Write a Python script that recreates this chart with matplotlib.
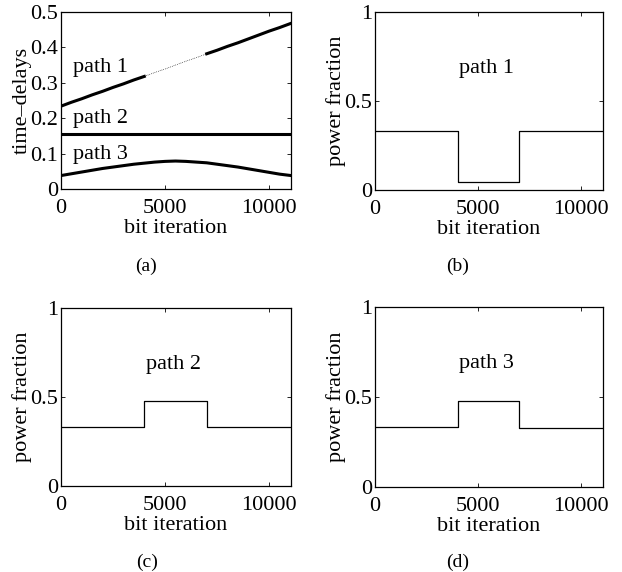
import numpy as np
import matplotlib
matplotlib.use('Agg')
from matplotlib import pyplot as plt

plt.rcParams['font.family'] = ['Liberation Serif', 'DejaVu Serif']

# time-delay curves (panel a)
iters = [0, 500, 1000, 1500, 2000, 2500, 3000, 3500, 4000, 4500, 5000, 5500,
         6000, 6500, 7000, 7500, 8000, 8500, 9000, 9500, 10000, 10500, 11050]
delay1 = [0.234, 0.245, 0.255, 0.266, 0.276, 0.287, 0.297, 0.308, 0.318, 0.329,
          0.339, 0.350, 0.361, 0.371, 0.382, 0.392, 0.403, 0.413, 0.424, 0.435,
          0.446, 0.456, 0.468]
delay2 = [0.156] * 23
delay3 = [0.038, 0.043, 0.048, 0.053, 0.058, 0.062, 0.066, 0.070, 0.073, 0.076,
          0.078, 0.079, 0.078, 0.076, 0.074, 0.070, 0.066, 0.062, 0.057, 0.052,
          0.047, 0.042, 0.038]

# power fractions (panels b-d), step changes
steps = [0, 4000, 7000, 11050]
power1 = [0.333, 0.045, 0.333, 0.333]
power2 = [0.333, 0.48, 0.333, 0.333]
power3 = [0.333, 0.48, 0.33, 0.33]

W, H = 622, 572
FS = 16
fig = plt.figure(figsize=(W / 100, H / 100), dpi=100)

def px_axes(l, t, r, b):
    return fig.add_axes([l / W, 1 - b / H, (r - l) / W, (b - t) / H])

def style(ax):
    ax.tick_params(direction='in', top=True, right=True, length=3, width=0.6,
                   labelsize=FS, pad=2)
    ax.tick_params(axis='x', pad=7)
    for s in ax.spines.values():
        s.set_linewidth(0.9)
    ax.set_xlim(0, 11050)
    ax.set_xticks([0, 5000, 10000])
    ax.set_xlabel('bit iteration', fontsize=FS, labelpad=1)

# (a)
ax = px_axes(61, 12, 291, 189)
style(ax)
x = np.array(iters)
d1 = np.array(delay1)
early = x <= 4000
ax.plot(x[early], d1[early], color='k', lw=2.2)
mid = (x >= 4000) & (x <= 7000)
ax.plot(x[mid], d1[mid], color='k', lw=0.5, ls=':')
late = x >= 7000
ax.plot(x[late], d1[late], color='k', lw=2.2)
ax.plot(iters, delay2, color='k', lw=2.2)
ax.plot(iters, delay3, color='k', lw=2.2)
ax.set_ylim(0, 0.5)
ax.set_yticks([0, 0.1, 0.2, 0.3, 0.4, 0.5])
ax.set_yticklabels(['0', '0.1', '0.2', '0.3', '0.4', '0.5'])
ax.set_ylabel('time\u2013delays', fontsize=FS, labelpad=-1)
ax.text(600, 0.342, 'path 1', fontsize=FS, va='center')
ax.text(600, 0.200, 'path 2', fontsize=FS, va='center')
ax.text(600, 0.097, 'path 3', fontsize=FS, va='center')

panels = [
    ((375, 12, 603, 190), power1, 'path 1'),
    ((61, 308, 291, 486), power2, 'path 2'),
    ((375, 307, 603, 487), power3, 'path 3'),
]
for box, pw, name in panels:
    ax = px_axes(*box)
    style(ax)
    ax.step(steps, pw, where='post', color='k', lw=0.9)
    ax.set_ylim(0, 1)
    ax.set_yticks([0, 0.5, 1])
    ax.set_yticklabels(['0', '0.5', '1'])
    ax.set_ylabel('power fraction', fontsize=FS, labelpad=-1)
    ax.text(5400, 0.685, name, fontsize=FS, ha='center', va='center')

for cx, cy, lab in [(146, 266, '(a)'), (458, 266, '(b)'), (147, 562, '(c)'), (458, 562, '(d)')]:
    fig.text(cx / W, 1 - cy / H, lab, fontsize=14, ha='center', va='center')

fig.savefig('out.png', dpi=100)
